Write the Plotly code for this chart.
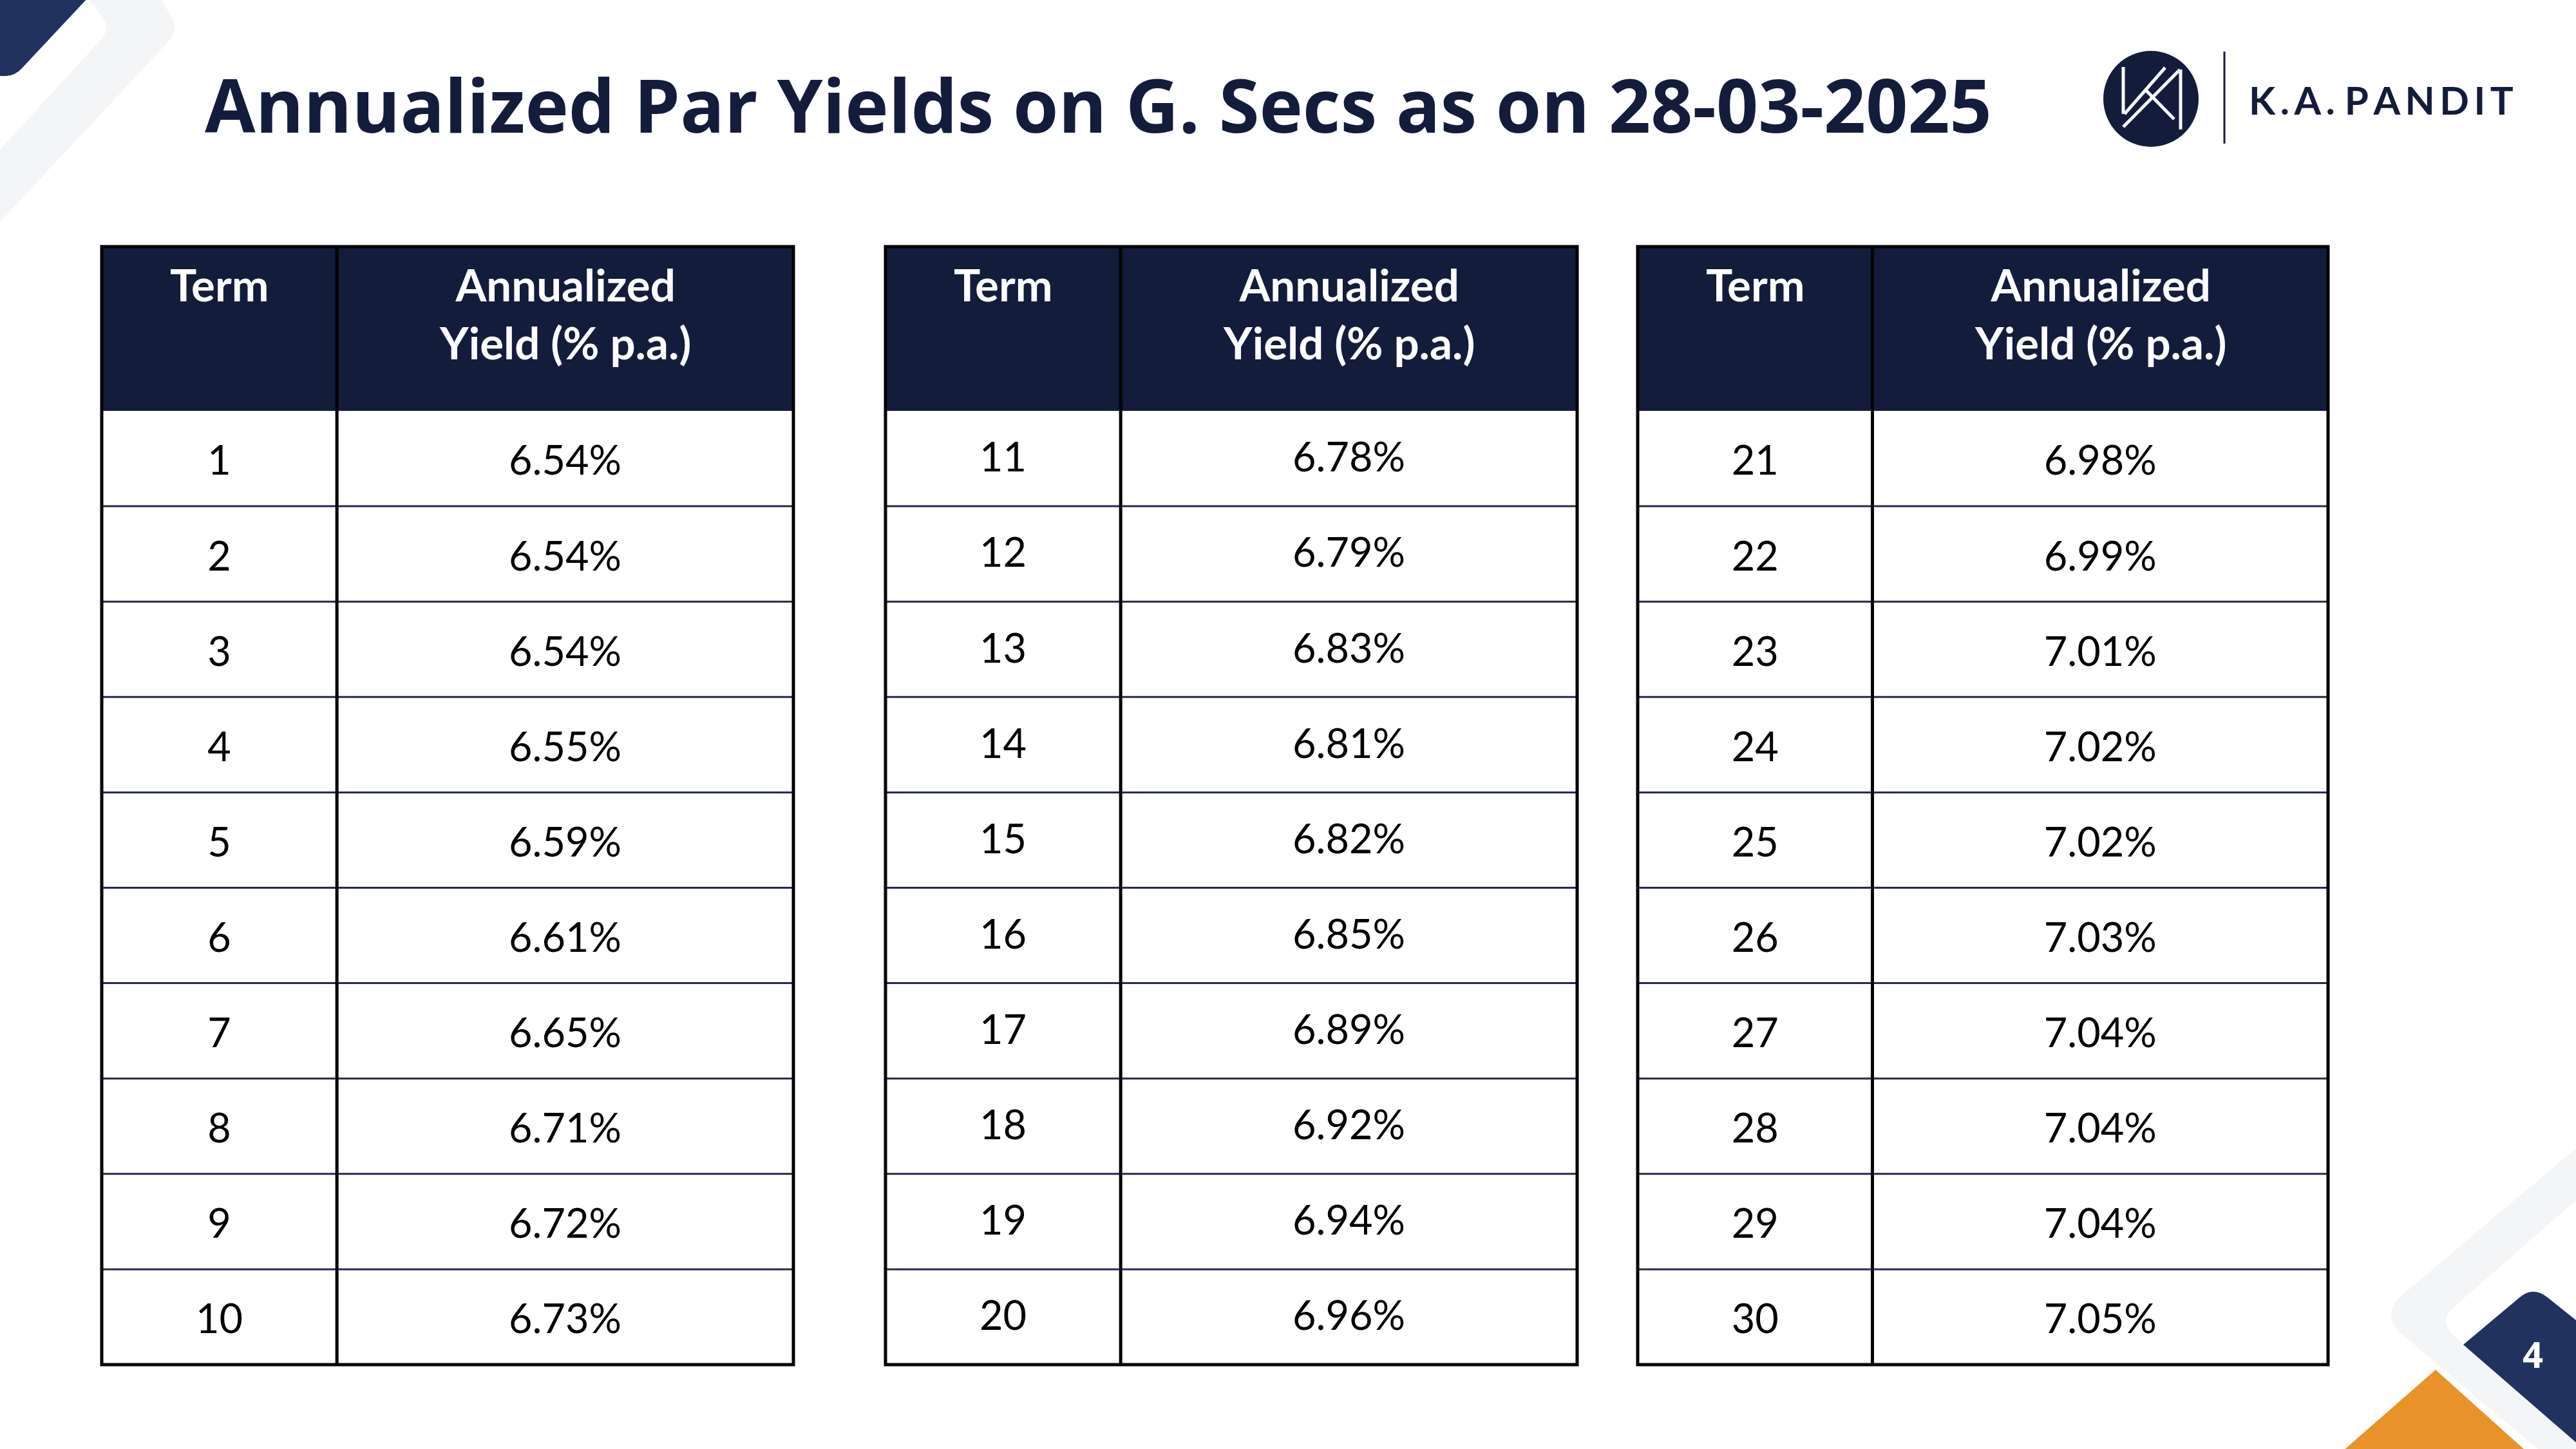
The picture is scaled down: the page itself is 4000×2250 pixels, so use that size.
import plotly.graph_objects as go

# ---------------- data ----------------
title_text = "Annualized Par Yields on G. Secs as on 28-03-2025"
header_labels = ["Term", "Annualized<br>Yield (% p.a.)"]

terms_1 = [1, 2, 3, 4, 5, 6, 7, 8, 9, 10]
yields_1 = [6.54, 6.54, 6.54, 6.55, 6.59, 6.61, 6.65, 6.71, 6.72, 6.73]

terms_2 = [11, 12, 13, 14, 15, 16, 17, 18, 19, 20]
yields_2 = [6.78, 6.79, 6.83, 6.81, 6.82, 6.85, 6.89, 6.92, 6.94, 6.96]

terms_3 = [21, 22, 23, 24, 25, 26, 27, 28, 29, 30]
yields_3 = [6.98, 6.99, 7.01, 7.02, 7.02, 7.03, 7.04, 7.04, 7.04, 7.05]

brand_text = "K\u2009.\u2009A\u2009.\u2009\u2009P\u2009A\u2009N\u2009D\u2009I\u2009T"
page_number = "4"

# ---------------- styling ----------------
W, H = 4000, 2250
NAVY = "#141C3C"
NAVY_DECOR = "#21325E"
ROW_LINE = "#232B4E"
GRAY = "#F4F5F7"
ORANGE = "#E8922A"

TABLE_LEFT = [158, 1375, 2543]
TABLE_RIGHT = [1232, 2449, 3615]
TEXT_DY = [0.065, 0.031, 0.065]
TABLE_TOP, TABLE_BOTTOM, HEADER_PX = 383, 2119, 255
N_ROWS = 10
ROW_PX = (TABLE_BOTTOM - TABLE_TOP - HEADER_PX) / N_ROWS
HDR = HEADER_PX / ROW_PX
PAD_PX = 12
DIV_X = 0.34
TERM_X = 0.17
YIELD_X = 0.67


def pp(x, y):
    return f"{x / W:.5f},{1 - y / H:.5f}"


def pth(*segs):
    out = []
    for seg in segs:
        cmd, pts = seg[0], list(seg[1:])
        if cmd == "Q":
            for i in range(0, len(pts), 2):
                out.append("Q " + pp(*pts[i]) + " " + pp(*pts[i + 1]))
        else:
            for i, p in enumerate(pts):
                c = cmd if (cmd != "M" or i == 0) else "L"
                out.append(c + " " + pp(*p))
    return " ".join(out) + " Z"


fig = go.Figure()
shapes = []
annotations = []

tables = [(terms_1, yields_1), (terms_2, yields_2), (terms_3, yields_3)]
ey = PAD_PX / ROW_PX
layout_axes = {}
for k, (terms, ylds) in enumerate(tables):
    suffix = "" if k == 0 else str(k + 1)
    xr = "x" + suffix
    tw = TABLE_RIGHT[k] - TABLE_LEFT[k]
    ex = PAD_PX / tw
    layout_axes["xaxis" + suffix] = dict(
        domain=[(TABLE_LEFT[k] - PAD_PX) / W, (TABLE_RIGHT[k] + PAD_PX) / W],
        range=[-ex, 1 + ex], visible=False, fixedrange=True, anchor="y",
    )
    rows_y = [i + 0.5 + TEXT_DY[k] for i in range(len(terms))]
    fig.add_trace(go.Scatter(
        x=[TERM_X] * len(terms), y=rows_y, text=[str(t) for t in terms],
        mode="text", textposition="middle center",
        textfont=dict(family="Lato", size=63, color="#000000"),
        xaxis=xr, yaxis="y", hoverinfo="skip", showlegend=False,
    ))
    fig.add_trace(go.Scatter(
        x=[YIELD_X] * len(ylds), y=rows_y, text=[f"{v:.2f}%" for v in ylds],
        mode="text", textposition="middle center",
        textfont=dict(family="Lato", size=63, color="#000000"),
        xaxis=xr, yaxis="y", hoverinfo="skip", showlegend=False,
    ))
    # header fill
    shapes.append(dict(type="rect", xref=xr, yref="y", x0=0, x1=1, y0=-HDR, y1=0,
                       fillcolor=NAVY, line=dict(width=0), layer="below"))
    # row separators
    for r in range(1, len(terms)):
        shapes.append(dict(type="line", xref=xr, yref="y", x0=0, x1=1, y0=r, y1=r,
                           line=dict(color=ROW_LINE, width=3)))
    # column divider
    shapes.append(dict(type="line", xref=xr, yref="y", x0=DIV_X, x1=DIV_X,
                       y0=-HDR, y1=len(terms), line=dict(color="#000000", width=5)))
    # outer border
    shapes.append(dict(type="rect", xref=xr, yref="y", x0=0, x1=1, y0=-HDR,
                       y1=len(terms), line=dict(color="#000000", width=5)))
    # header labels
    for lbl, cx in zip(header_labels, [TERM_X, YIELD_X]):
        annotations.append(dict(
            text=lbl, xref=xr, yref="y", x=cx, y=-HDR + 0.1, xanchor="center",
            yanchor="top", showarrow=False, align="center",
            font=dict(family="Lato", size=69, color="#FFFFFF", weight="bold"),
        ))

# ---------------- decorations ----------------
# top-left gray band
shapes.append(dict(type="path", xref="paper", yref="paper", layer="below",
                   path=pth(("M", (136, -5)), ("L", (247, -5), (264, 22)),
                            ("Q", (279, 44), (262, 64)), ("L", (-5, 350), (-5, 238), (158, 60)),
                            ("Q", (172, 44), (158, 26))),
                   fillcolor=GRAY, line=dict(width=0)))
# top-left navy piece
shapes.append(dict(type="path", xref="paper", yref="paper", layer="below",
                   path=pth(("M", (-5, -5)), ("L", (138, -5), (34, 106)),
                            ("Q", (24, 117), (10, 118)), ("L", (-5, 118))),
                   fillcolor=NAVY_DECOR, line=dict(width=0)))
# bottom-right gray chevron
shapes.append(dict(type="path", xref="paper", yref="paper", layer="below",
                   path=pth(("M", (4005, 1779)), ("L", (3725, 2015)),
                            ("Q", (3700, 2045), (3727, 2070)),
                            ("L", (4005, 2304), (4005, 2238), (3813, 2077)),
                            ("Q", (3785, 2050), (3810, 2030)), ("L", (4005, 1859))),
                   fillcolor=GRAY, line=dict(width=0)))
# navy page tab
shapes.append(dict(type="path", xref="paper", yref="paper", layer="below",
                   path=pth(("M", (3825, 2088)), ("L", (3912, 2015)),
                            ("Q", (3933, 1997), (3955, 2014)),
                            ("L", (4005, 2054), (4005, 2244))),
                   fillcolor=NAVY_DECOR, line=dict(width=0)))
# orange triangle
shapes.append(dict(type="path", xref="paper", yref="paper", layer="below",
                   path=pth(("M", (3630, 2260)), ("L", (3782, 2127), (3930, 2260))),
                   fillcolor=ORANGE, line=dict(width=0)))

# logo circle + monogram
shapes.append(dict(type="circle", xref="paper", yref="paper",
                   x0=3266 / W, x1=3414 / W, y0=1 - 228 / H, y1=1 - 79 / H,
                   fillcolor=NAVY, line=dict(width=0)))
for (xa, ya), (xb, yb) in [((3297, 104), (3297, 177)), ((3299, 177), (3362, 105)),
                           ((3297, 197), (3385, 108)), ((3386, 108), (3386, 201)),
                           ((3332, 140), (3376, 185))]:
    shapes.append(dict(type="line", xref="paper", yref="paper",
                       x0=xa / W, x1=xb / W, y0=1 - ya / H, y1=1 - yb / H,
                       line=dict(color="#FFFFFF", width=5)))
shapes.append(dict(type="line", xref="paper", yref="paper",
                   x0=3454 / W, x1=3454 / W, y0=1 - 80 / H, y1=1 - 223 / H,
                   line=dict(color=NAVY, width=3)))

annotations.append(dict(text=brand_text, xref="paper", yref="paper", x=3490 / W, y=1 - 155 / H,
                        xanchor="left", yanchor="middle", showarrow=False,
                        font=dict(family="Lato", size=60, color=NAVY, weight="bold")))
annotations.append(dict(text=title_text, xref="paper", yref="paper", x=316 / W, y=1 - 161 / H,
                        xanchor="left", yanchor="middle", showarrow=False,
                        font=dict(family="Open Sans", size=114, color=NAVY, weight="bold")))
annotations.append(dict(text=page_number, xref="paper", yref="paper", x=3933 / W, y=1 - 2102 / H,
                        xanchor="center", yanchor="middle", showarrow=False,
                        font=dict(family="Open Sans", size=56, color="#FFFFFF", weight="bold")))

fig.update_layout(
    width=W, height=H, margin=dict(l=0, r=0, t=0, b=0),
    paper_bgcolor="#FFFFFF", plot_bgcolor="rgba(0,0,0,0)",
    showlegend=False, shapes=shapes, annotations=annotations,
    yaxis=dict(domain=[1 - (TABLE_BOTTOM + PAD_PX) / H, 1 - (TABLE_TOP - PAD_PX) / H],
               range=[N_ROWS + ey, -HDR - ey], visible=False, fixedrange=True),
    **layout_axes,
)

fig.write_html(
    "out.html",
    config={"displayModeBar": False},
    post_script="document.body.style.margin='0px';document.body.style.overflow='hidden';",
)
